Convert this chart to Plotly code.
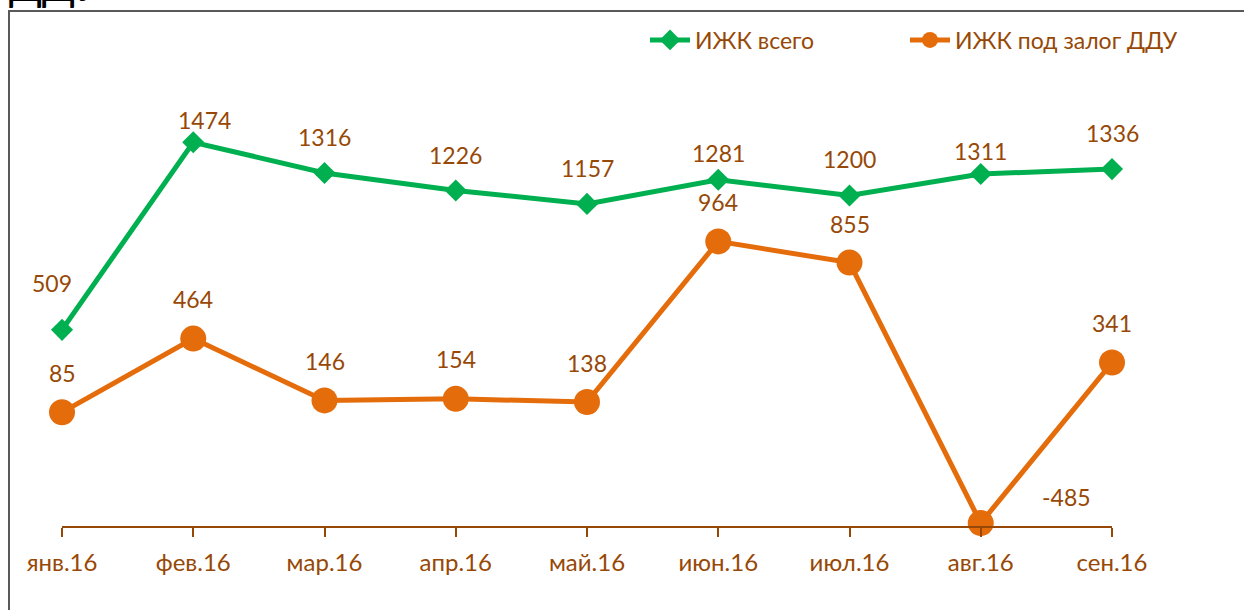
import plotly.graph_objects as go

months = ["янв.16", "фев.16", "мар.16", "апр.16", "май.16", "июн.16", "июл.16", "авг.16", "сен.16"]
izhk_total = [509, 1474, 1316, 1226, 1157, 1281, 1200, 1311, 1336]
izhk_ddu = [85, 464, 146, 154, 138, 964, 855, -485, 341]
name_total = "ИЖК всего"
name_ddu = "ИЖК под залог ДДУ"

# label offsets (pixels): style only
total_dx = [-10, 11, 0, 0, 0, 0, 0, 0, 0]
total_dy = [47, 22, 36, 35, 36, 27, 37, 23, 36]
ddu_dx = [0, 0, 0, 0, 0, 0, 0, 86, 0]
ddu_dy = [39, 40, 39, 40, 39, 39, 39, 26, 40]

GREEN = "#00B050"
ORANGE = "#E46C0A"
BROWN = "#974806"
FONT = "Lato, 'Open Sans', sans-serif"

W, H = 1244, 610
L, R, T, B = 62, 132, 40, 84
PW, PH = W - L - R, H - T - B

def px_x(px):
    return (px - L) / PW

def px_y(py):
    return (H - B - py) / PH

xi = list(range(len(months)))

fig = go.Figure()
fig.add_trace(go.Scatter(
    x=xi, y=izhk_total, name=name_total, mode="lines+markers",
    line=dict(color=GREEN, width=5),
    marker=dict(symbol="diamond", size=17, color=GREEN),
    cliponaxis=False, legend="legend",
))
fig.add_trace(go.Scatter(
    x=xi, y=izhk_ddu, name=name_ddu, mode="lines+markers",
    line=dict(color=ORANGE, width=5),
    marker=dict(symbol="circle", size=26, color=ORANGE),
    cliponaxis=False, legend="legend2",
))

ann = []
for i, v in enumerate(izhk_total):
    ann.append(dict(x=i, y=v, text=str(v), showarrow=False, xshift=total_dx[i], yshift=total_dy[i],
                    font=dict(family=FONT, size=23, color=BROWN)))
for i, v in enumerate(izhk_ddu):
    ann.append(dict(x=i, y=v, text=str(v), showarrow=False, xshift=ddu_dx[i], yshift=ddu_dy[i],
                    font=dict(family=FONT, size=23, color=BROWN)))
# clipped title remnant at top-left
ann.append(dict(xref="paper", yref="paper", x=px_x(7), y=px_y(-15), xanchor="left", yanchor="middle",
                text="ДДУ", showarrow=False, font=dict(family=FONT, size=42, color="black")))

shapes = [dict(type="path", xref="paper", yref="paper",
               path=f"M {px_x(9)} {px_y(612)} L {px_x(9)} {px_y(11)} L {px_x(1246)} {px_y(11)}",
               line=dict(color="#595959", width=2))]

legend_common = dict(orientation="h", yanchor="middle", xanchor="left",
                     font=dict(family=FONT, size=23, color=BROWN), bgcolor="rgba(0,0,0,0)",
                     itemwidth=40)

fig.update_layout(
    width=W, height=H,
    margin=dict(l=L, r=R, t=T, b=B),
    paper_bgcolor="white", plot_bgcolor="white",
    font=dict(family=FONT, color=BROWN),
    xaxis=dict(range=[0, len(months) - 1], tickmode="array", tickvals=xi, ticktext=months,
               showgrid=False, zeroline=False, showline=True, linecolor=BROWN, linewidth=2,
               ticks="outside", ticklen=9, tickwidth=2, tickcolor=BROWN,
               tickfont=dict(family=FONT, size=24, color=BROWN), ticklabelstandoff=5),
    yaxis=dict(range=[-500, 2000], visible=False, showgrid=False, zeroline=False),
    showlegend=True,
    legend=dict(x=px_x(645), y=px_y(40), **legend_common),
    legend2=dict(x=px_x(905), y=px_y(40), **legend_common),
    annotations=ann,
    shapes=shapes,
)

fig.write_html("out.html", config={"displayModeBar": False},
               post_script="document.body.style.margin='0';document.body.style.overflow='hidden';")
